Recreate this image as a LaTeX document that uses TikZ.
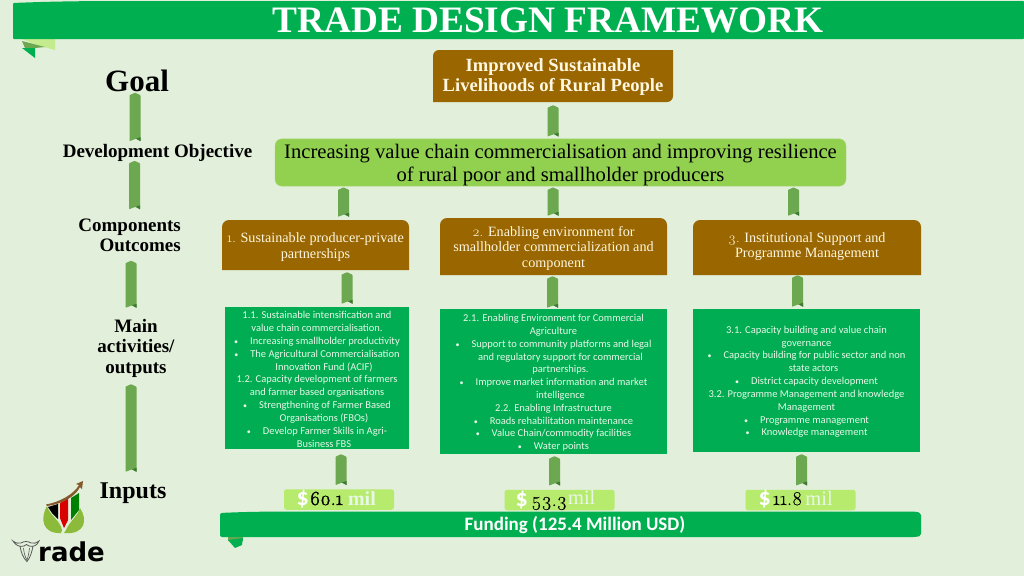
\documentclass[tikz,border=0pt]{standalone}
\usepackage{fontspec}
\usetikzlibrary{calc}
\setmainfont{Liberation Serif}
\newfontfamily\crlfont{Carlito}
\newfontfamily\osffont{Latin Modern Roman}[Numbers=OldStyle]
\newfontfamily\osflight{Latin Modern Roman}[Numbers=OldStyle,FakeBold=0.3]
\newfontfamily\osfheavy{Latin Modern Roman}[Numbers=OldStyle,FakeBold=1.6]
\newfontfamily\logofont{DejaVu Sans}
\definecolor{pagebg}{HTML}{E2EFDA}
\definecolor{bannergreen}{HTML}{00B050}
\definecolor{actgreen}{HTML}{00AD52}
\definecolor{brownbox}{HTML}{996600}
\definecolor{limebox}{HTML}{92D050}
\definecolor{moneybox}{HTML}{B7EB6E}
\definecolor{ribbongreen}{HTML}{6CA84F}
\definecolor{ribbondark}{HTML}{3E7A34}
\definecolor{creamtext}{HTML}{FFF7E0}
\definecolor{acttext}{HTML}{E8F8E8}
\definecolor{leafgreen}{HTML}{8CBA3A}
\newcommand{\px}[2]{\fontsize{#1}{#2}\selectfont}
\newcommand{\bl}{{\px{8}{8}•}\hspace{12pt}}
\newcommand{\ind}{\hspace*{14pt}}
\newcommand{\topgap}[1]{\rule{0pt}{#1pt}}
% ribbon connector: x centre, from node A (gap) to node B (gap)
\newcommand{\ribbon}[5]{%
  \fill[ribbongreen,rounded corners=0.6pt] let \p1=(#2.south), \p2=(#4.north) in
    (#1pt-5.5pt,\y1-#3pt-2.5pt) -- (#1pt,\y1-#3pt) -- (#1pt+5.5pt,\y1-#3pt-2.5pt)
    -- (#1pt+5.5pt,\y2+#5pt) -- (#1pt+1pt,\y2+#5pt+2.5pt) -- (#1pt-5.5pt,\y2+#5pt) -- cycle;
  \fill[ribbondark] let \p2=(#4.north) in
    (#1pt+5.5pt,\y2+#5pt) -- (#1pt+1pt,\y2+#5pt+2.5pt) -- (#1pt+5.5pt,\y2+#5pt+4pt) -- cycle;
}
\tikzset{
  headlabel/.style={inner sep=0pt,font=\bfseries,align=center,text=black},
  activity/.style={fill=actgreen,inner sep=0pt,align=center,text=acttext,font=\crlfont\px{10.5}{12.82}},
  component/.style={inner sep=0pt,align=center,text=creamtext,font=\px{14.2}{15.4}},
  money/.style={fill=moneybox,inner sep=0pt,rounded corners=2.5pt,minimum width=110pt,minimum height=20.5pt},
}
\begin{document}
\begin{tikzpicture}[x=1pt,y=-1pt]
\useasboundingbox (0,0) rectangle (1024,576);
\fill[pagebg] (0,0) rectangle (1024,576);

% top banner
\fill[moneybox!70!pagebg] (22,39) -- (55,39) -- (55,50) -- (37,45) -- cycle;
\fill[ribbongreen] (22,41) -- (45,47) -- (35,48) -- (25,48) -- cycle;
\fill[bannergreen] (22,48) -- (35,48) -- (35,58) -- cycle;
\fill[bannergreen,rounded corners=1pt] (13,39) -- (13,3) .. controls (60,1) and (100,1) .. (140,1) -- (1024,1) -- (1024,39) -- cycle;
\node[inner sep=0pt,text=white,font=\bfseries\px{37.3}{40}] (title) at (548,20) {TRADE DESIGN FRAMEWORK};

% left column labels
\node[headlabel,font=\bfseries\px{31}{31},minimum height=24pt] (goal) at (137,81) {Goal};
\node[headlabel,font=\bfseries\px{19}{20},minimum height=17pt] (devobj) at (157.5,153) {Development Objective};
\node[headlabel,font=\bfseries\px{19}{20.5},align=right,minimum height=41pt,anchor=east] (comp) at (181,235.5) {Components\\Outcomes};
\node[headlabel,font=\bfseries\px{19}{20.5},minimum height=60pt] (main) at (136,348) {Main\\activities/\\outputs};
\node[headlabel,font=\bfseries\px{24}{24},minimum height=22pt] (inputs) at (133,493) {Inputs};

% goal and objective
\fill[brownbox,rounded corners=6pt] (433,50) [sharp corners] -- (673,50) [rounded corners=6pt] -- (673,102) [sharp corners] -- (433,102) [rounded corners=6pt] -- cycle;
\node[inner sep=0pt,minimum width=240pt,minimum height=52pt,align=center,text=creamtext,font=\bfseries\px{18.6}{20.3}] (goalbox) at (553,76) {\topgap{14.5}Improved Sustainable\\Livelihoods of Rural People};
\node[fill=limebox,draw=limebox!70!pagebg,rounded corners=7pt,minimum width=571pt,minimum height=47pt,inner sep=0pt,align=center,text=black,font=\px{20.6}{23}] (objective) at (560.5,162.5) {\topgap{20}Increasing value chain commercialisation and improving resilience\\of rural poor and smallholder producers};

% component boxes
\fill[brownbox] (222,270) [rounded corners=7pt] -- (222,220) -- (409,220) [sharp corners] -- (409,270) -- cycle;
\node[component,minimum width=187pt,minimum height=50pt] (c1) at (315.5,245) {\topgap{14}{\osffont 1.} Sustainable producer-private\\partnerships};
\fill[brownbox] (440,275) [rounded corners=7pt] -- (440,218) -- (667,218) [sharp corners] -- (667,275) -- cycle;
\node[component,minimum width=227pt,minimum height=57pt] (c2) at (553.5,246.5) {\topgap{14}{\osffont 2.} Enabling environment for\\smallholder commercialization and\\component};
\fill[brownbox] (693,275) [rounded corners=7pt] -- (693,220) -- (921,220) [sharp corners] -- (921,275) -- cycle;
\node[component,minimum width=228pt,minimum height=55pt] (c3) at (807,246.5) {{\osffont 3.} Institutional Support and\\Programme Management};

% activity boxes
\node[activity,minimum width=184pt,minimum height=142pt] (a1) at (317,378) {\topgap{10}1.1. Sustainable intensification and\\value chain commercialisation.\\\bl Increasing smallholder productivity\\\bl The Agricultural Commercialisation\\\ind Innovation Fund (ACIF)\\1.2. Capacity development of farmers\\and farmer based organisations\\\bl Strengthening of Farmer Based\\\ind Organisations (FBOs)\\\bl Develop Farmer Skills in Agri-\\\ind Business FBS};
\node[activity,minimum width=227pt,minimum height=145pt] (a2) at (553.5,381.5) {\topgap{10}2.1. Enabling Environment for Commercial\\Agriculture\\\bl Support to community platforms and legal\\\ind and regulatory support for commercial\\\ind partnerships.\\\bl Improve market information and market\\\ind intelligence\\2.2. Enabling Infrastructure\\\bl Roads rehabilitation maintenance\\\bl Value Chain/commodity facilities\\\bl Water points};
\node[activity,minimum width=227pt,minimum height=143pt] (a3) at (806.5,380.5) {\topgap{10}3.1. Capacity building and value chain\\governance\\\bl Capacity building for public sector and non\\\ind state actors\\\bl District capacity development\\3.2. Programme Management and knowledge\\Management\\\bl Programme management\\\bl Knowledge management};

% money boxes
\node[money] (m1) at (339,499.5) {};
\node[money] (m2) at (559.5,500) {};
\node[money] (m3) at (800.5,500) {};
\node[inner sep=0pt,anchor=base west] (m1t) at (296.5,505) {\textcolor{white}{\crlfont\bfseries\px{24}{24}\$}\hspace{1pt}\textcolor{black}{\osfheavy\px{20}{20}60.1}\hspace{5pt}\textcolor{acttext}{\bfseries\px{20}{20}mil}};
\node[inner sep=0pt,anchor=base west] (m2t) at (515.5,506) {\textcolor{white}{\crlfont\bfseries\px{24}{24}\$}\hspace{3.5pt}\textcolor{black}{\osflight\px{19.5}{19}53.3}\hspace{1pt}\raisebox{1.5pt}{\textcolor{acttext}{\px{20.5}{20}mil}}};
\node[inner sep=0pt,anchor=base west] (m3t) at (758.5,505) {\textcolor{white}{\crlfont\bfseries\px{24}{24}\$}\hspace{2pt}\textcolor{black}{\osflight\px{19.5}{19}11.8}\hspace{3pt}\textcolor{acttext}{\px{20.5}{20}mil}};

% funding banner
\fill[ribbongreen] (228,537) rectangle (243,541);
\fill[bannergreen] (228,540) -- (243,538) -- (242,545) -- (235,548) -- cycle;
\fill[bannergreen,rounded corners=2pt] (220,537) -- (220,513) .. controls (250,511.5) and (280,511.5) .. (300,511.5) -- (915,511.5) -- (921,513) -- (921,536) -- (915,537) -- cycle;
\node[inner sep=0pt,minimum width=701pt,minimum height=25pt,text=white,font=\crlfont\bfseries\px{19}{19}] (funding) at (575,525) {Funding (125.4 Million USD)};

% ribbons
\ribbon{135}{goal}{-0.5}{devobj}{3}
\ribbon{134.5}{devobj}{-1}{comp}{5.5}
\ribbon{131}{comp}{4.5}{main}{10}
\ribbon{131}{main}{6}{inputs}{10}
\ribbon{553}{goalbox}{3}{objective}{2}
\ribbon{343.5}{objective}{1}{c1}{3}
\ribbon{553}{objective}{1}{c2}{2}
\ribbon{793.5}{objective}{1}{c3}{3}
\ribbon{347}{c1}{2}{a1}{3}
\ribbon{552.5}{c2}{1}{a2}{1}
\ribbon{797.5}{c3}{1}{a3}{2}
\ribbon{341}{a1}{5}{m1}{4}
\ribbon{554.5}{a2}{2}{m2}{4}
\ribbon{801.5}{a3}{2}{m3}{4}

% logo
\fill[leafgreen] (61,533) .. controls (42,534) and (40,518) .. (47,506) .. controls (50,516) and (60,520) .. (62,530) -- cycle;
\fill[leafgreen] (64,533) .. controls (85,535) and (88,520) .. (80,508) .. controls (78,516) and (69,522) .. (66,530) -- cycle;
\fill[brown!70!black] (46,504.5) .. controls (60,502) and (74,494) .. (79,485) -- (76,484) -- (83,481) -- (82,489) -- (80,487) .. controls (75,497) and (62,504) .. (47,506) -- cycle;
\fill[black] (48,507) -- (58,504) -- (58,519) -- (52,513) -- cycle;
\fill[red!85!black] (60,503) -- (68,499) -- (68,520) -- (64,528) -- (60,518) -- cycle;
\fill[green!50!black] (71,498) -- (79,493) -- (79,510) -- (71,520) -- cycle;
\draw[gray!70!black,line width=0.8pt,fill=pagebg] (13,541) .. controls (16,546) and (20,547) .. (24,546) .. controls (26,544) and (27,544) .. (29,546) .. controls (33,547) and (37,546) .. (39,541) .. controls (36,543) and (34,544) .. (31,543) .. controls (28,541) and (24,541) .. (21,543) .. controls (18,544) and (16,543) .. (13,541) -- cycle;
\draw[gray!70!black,line width=0.8pt] (20,546) .. controls (21,552) and (23,558) .. (27,561.5) .. controls (30,558) and (32,552) .. (33,546);
\draw[gray!70!black,line width=0.6pt] (23.5,548) .. controls (24,553) and (25,557) .. (27,560) .. controls (28,557) and (29,553) .. (29.5,548);
\node[inner sep=0pt,anchor=base west,text=black,font=\logofont\bfseries\px{26}{26}] (logotext) at (38,561.5) {rade};
\end{tikzpicture}
\end{document}
